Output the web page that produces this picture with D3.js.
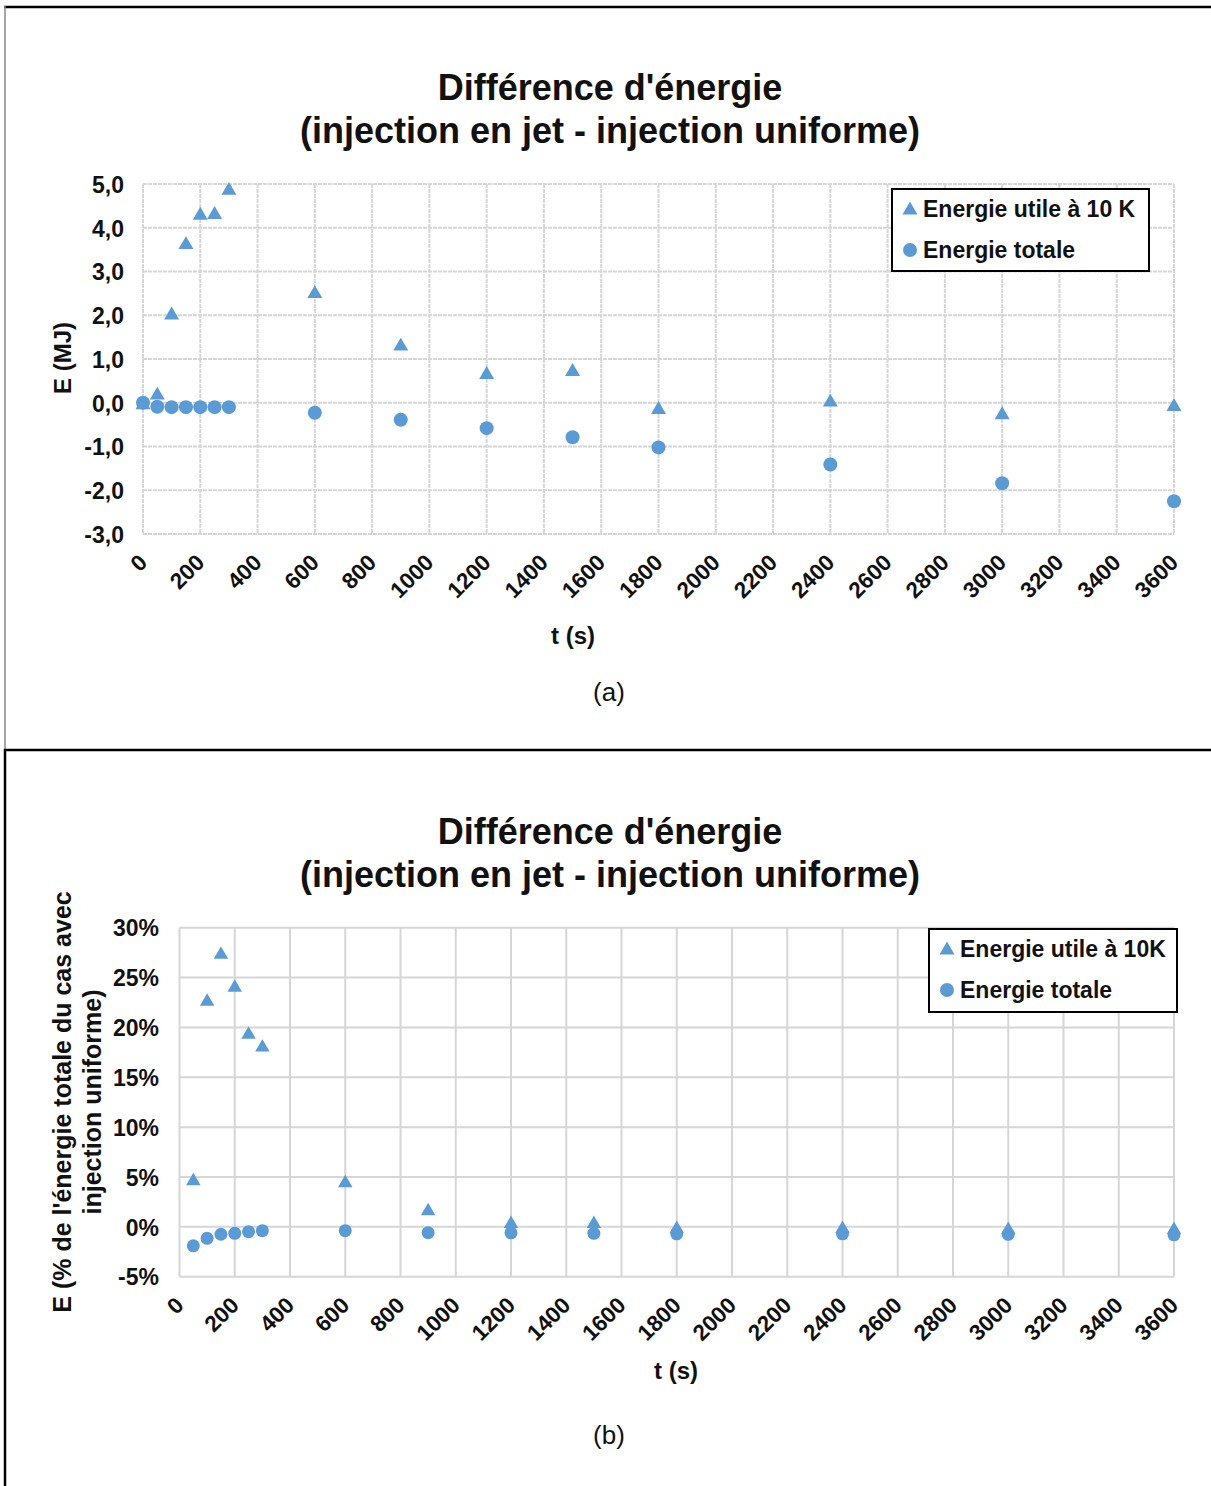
<!DOCTYPE html>
<html>
<head>
<meta charset="utf-8">
<script src="https://cdn.jsdelivr.net/npm/d3@7"></script>
<style>
  html, body { margin: 0; padding: 0; background: #fff; }
  svg { display: block; font-family: "Liberation Sans", Arial, sans-serif; }
</style>
</head>
<body>
<script>
// ---------- DATA ----------
const titleLines = ["Différence d'énergie", "(injection en jet - injection uniforme)"];
const xTicks = d3.range(0, 3601, 200);

// Chart (a): E (MJ)
const tA = [0, 50, 100, 150, 200, 250, 300, 600, 900, 1200, 1500, 1800, 2400, 3000, 3600];
const utileA = [0.0, 0.22, 2.05, 3.66, 4.33, 4.35, 4.90, 2.54, 1.34, 0.69, 0.76, -0.11, 0.06, -0.23, -0.04];
const totaleA = [0.0, -0.09, -0.10, -0.10, -0.10, -0.10, -0.10, -0.23, -0.39, -0.58, -0.79, -1.02, -1.41, -1.84, -2.25];
const yTicksA = [5, 4, 3, 2, 1, 0, -1, -2, -3];
const legendA = ["Energie utile à 10 K", "Energie totale"];

// Chart (b): E (% of total energy, uniform injection case)
const tB = [50, 100, 150, 200, 250, 300, 600, 900, 1200, 1500, 1800, 2400, 3000, 3600];
const utileB = [4.8, 22.8, 27.5, 24.2, 19.5, 18.2, 4.6, 1.8, 0.5, 0.5, 0.0, 0.0, -0.1, -0.1];
const totaleB = [-1.9, -1.15, -0.74, -0.65, -0.48, -0.38, -0.38, -0.58, -0.6, -0.65, -0.7, -0.7, -0.75, -0.8];
const yTicksB = [30, 25, 20, 15, 10, 5, 0, -5];
const legendB = ["Energie utile à 10K", "Energie totale"];

// ---------- DRAW ----------
const W = 1211, H = 1486;
const COLOR = "#5B9BD5";
const svg = d3.select("body").append("svg").attr("width", W).attr("height", H);

// frame lines
svg.append("line").attr("x1", 4).attr("x2", W).attr("y1", 7).attr("y2", 7).attr("stroke", "#000").attr("stroke-width", 2.5);
svg.append("line").attr("x1", 5).attr("x2", 5).attr("y1", 6).attr("y2", 750).attr("stroke", "#888").attr("stroke-width", 1.5);
svg.append("line").attr("x1", 4).attr("x2", W).attr("y1", 750).attr("y2", 750).attr("stroke", "#000").attr("stroke-width", 2.5);
svg.append("line").attr("x1", 5).attr("x2", 5).attr("y1", 749).attr("y2", H).attr("stroke", "#000").attr("stroke-width", 2.5);

function triPath(cx, cy, s) {
  const h = s * 0.86;
  return `M${cx},${cy - h / 2}L${cx + s / 2},${cy + h / 2}L${cx - s / 2},${cy + h / 2}Z`;
}

function drawChart(cfg) {
  const g = svg.append("g");
  const x = d3.scaleLinear().domain([0, 3600]).range([cfg.x0, cfg.x1]);
  const y = d3.scaleLinear().domain([cfg.yMin, cfg.yMax]).range([cfg.yBottom, cfg.yTop]);

  // title
  titleLines.forEach((t, i) => {
    g.append("text").attr("x", cfg.titleX).attr("y", cfg.titleY + i * 43)
      .attr("text-anchor", "middle").attr("font-size", 36).attr("font-weight", "bold")
      .attr("fill", "#111").text(t);
  });

  // grid
  const grid = g.append("g").attr("stroke", "#d6d6d6").attr("stroke-width", 2)
    .attr("stroke-dasharray", cfg.dash || null);
  xTicks.forEach(v => grid.append("line").attr("x1", x(v)).attr("x2", x(v))
    .attr("y1", y(cfg.yMax)).attr("y2", y(cfg.yMin)));
  cfg.yTicks.forEach(v => grid.append("line").attr("x1", x(0)).attr("x2", x(3600))
    .attr("y1", y(v)).attr("y2", y(v)));

  // y tick labels via axis
  const yAxis = d3.axisLeft(y).tickValues(cfg.yTicks).tickSize(0).tickPadding(0).tickFormat(cfg.yFormat);
  const ya = g.append("g").attr("transform", `translate(${cfg.yLabelX},0)`).call(yAxis);
  ya.select(".domain").remove();
  ya.selectAll("text").attr("font-size", 23).attr("font-weight", "bold").attr("fill", "#111")
    .attr("font-family", "Liberation Sans, Arial, sans-serif").attr("dy", "0.36em");

  // x tick labels via axis, rotated
  const xAxis = d3.axisBottom(x).tickValues(xTicks).tickSize(0).tickPadding(0).tickFormat(d3.format("d"));
  const xa = g.append("g").attr("transform", `translate(0,${cfg.yBottom})`).call(xAxis);
  xa.select(".domain").remove();
  xa.selectAll("text").attr("font-size", 22.5).attr("font-weight", "bold").attr("fill", "#111")
    .attr("font-family", "Liberation Sans, Arial, sans-serif")
    .attr("text-anchor", "end").attr("y", 0).attr("dy", 0)
    .attr("transform", "translate(5,30) rotate(-45)");

  // axis titles
  g.append("text").attr("x", cfg.xTitleX).attr("y", cfg.xTitleY).attr("text-anchor", "middle")
    .attr("font-size", 24).attr("font-weight", "bold").attr("fill", "#111").text("t (s)");
  cfg.yTitle.forEach((t, i) => {
    g.append("text").attr("transform", `translate(${cfg.yTitleX + i * 30},${cfg.yTitleY}) rotate(-90)`)
      .attr("text-anchor", "middle").attr("dy", "0.36em")
      .attr("font-size", cfg.yTitleSize).attr("font-weight", "bold").attr("fill", "#111").text(t);
  });

  // caption
  g.append("text").attr("x", 609).attr("y", cfg.capY).attr("text-anchor", "middle")
    .attr("font-size", 26).attr("fill", "#111").text(cfg.caption);

  // series: circles then triangles
  g.append("g").selectAll("circle").data(cfg.t.map((t, i) => [t, cfg.totale[i]])).join("circle")
    .attr("cx", d => x(d[0])).attr("cy", d => y(d[1])).attr("r", cfg.r).attr("fill", COLOR);
  g.append("g").selectAll("path").data(cfg.t.map((t, i) => [t, cfg.utile[i]])).join("path")
    .attr("d", d => triPath(x(d[0]), y(d[1]), cfg.tri)).attr("fill", COLOR);

  // legend
  const L = cfg.legend;
  g.append("rect").attr("x", L.x).attr("y", L.y).attr("width", L.w).attr("height", L.h)
    .attr("fill", "#fff").attr("stroke", "#000").attr("stroke-width", 2);
  g.append("path").attr("d", triPath(L.x + 18, L.y + 19, 15)).attr("fill", COLOR);
  g.append("circle").attr("cx", L.x + 18).attr("cy", L.y + 61).attr("r", 7).attr("fill", COLOR);
  cfg.legendLabels.forEach((t, i) => {
    g.append("text").attr("x", L.x + 31).attr("y", L.y + 20 + i * 41).attr("dy", "0.36em")
      .attr("font-size", 23).attr("font-weight", "bold").attr("fill", "#111").text(t);
  });
}

drawChart({
  x0: 143, x1: 1174, yMin: -3, yMax: 5, yTop: 184, yBottom: 534,
  yTicks: yTicksA, yFormat: d => d3.format(".1f")(d).replace(".", ",").replace("\u2212", "-"),
  yLabelX: 124, titleX: 610, titleY: 100, dash: "4,1",
  xTitleX: 573, xTitleY: 644, yTitle: ["E (MJ)"], yTitleX: 62, yTitleY: 358, yTitleSize: 24,
  capY: 701, caption: "(a)",
  t: tA, utile: utileA, totale: totaleA, r: 7, tri: 15,
  legend: { x: 892, y: 189, w: 257, h: 82 }, legendLabels: legendA
});

drawChart({
  x0: 179.5, x1: 1174, yMin: -5, yMax: 30, yTop: 927.7, yBottom: 1276.7,
  yTicks: yTicksB, yFormat: d => d + "%",
  yLabelX: 159, titleX: 610, titleY: 844, dash: null,
  xTitleX: 676, xTitleY: 1379, yTitle: ["E (% de l'énergie totale du cas avec", "injection uniforme)"],
  yTitleX: 62, yTitleY: 1102, yTitleSize: 25,
  capY: 1444, caption: "(b)",
  t: tB, utile: utileB, totale: totaleB, r: 6.5, tri: 14.5,
  legend: { x: 929, y: 929, w: 248, h: 83 }, legendLabels: legendB
});
</script>
</body>
</html>
